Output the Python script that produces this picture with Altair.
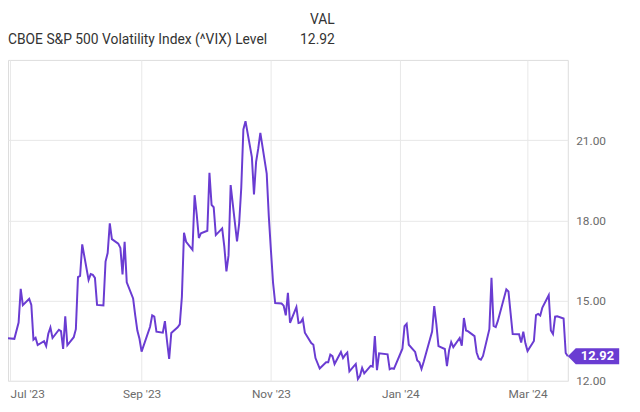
import altair as alt
import pandas as pd

dates = [
    "2023/06/30", "2023/07/03", "2023/07/05", "2023/07/06", "2023/07/07", "2023/07/10", "2023/07/11",
    "2023/07/12", "2023/07/13", "2023/07/14", "2023/07/17", "2023/07/18", "2023/07/19", "2023/07/20",
    "2023/07/21", "2023/07/24", "2023/07/25", "2023/07/26", "2023/07/27", "2023/07/28", "2023/07/31",
    "2023/08/01", "2023/08/02", "2023/08/03", "2023/08/04", "2023/08/07", "2023/08/08", "2023/08/09",
    "2023/08/10", "2023/08/11", "2023/08/14", "2023/08/15", "2023/08/16", "2023/08/17", "2023/08/18",
    "2023/08/21", "2023/08/22", "2023/08/23", "2023/08/24", "2023/08/25", "2023/08/28", "2023/08/29",
    "2023/08/30", "2023/08/31", "2023/09/01", "2023/09/05", "2023/09/06", "2023/09/07", "2023/09/08",
    "2023/09/11", "2023/09/12", "2023/09/13", "2023/09/14", "2023/09/15", "2023/09/18", "2023/09/19",
    "2023/09/20", "2023/09/21", "2023/09/22", "2023/09/25", "2023/09/26", "2023/09/27", "2023/09/28",
    "2023/09/29", "2023/10/02", "2023/10/03", "2023/10/04", "2023/10/05", "2023/10/06", "2023/10/09",
    "2023/10/10", "2023/10/11", "2023/10/12", "2023/10/13", "2023/10/16", "2023/10/17", "2023/10/18",
    "2023/10/19", "2023/10/20", "2023/10/23", "2023/10/24", "2023/10/25", "2023/10/26", "2023/10/27",
    "2023/10/30", "2023/10/31", "2023/11/01", "2023/11/02", "2023/11/03", "2023/11/06", "2023/11/07",
    "2023/11/08", "2023/11/09", "2023/11/10", "2023/11/13", "2023/11/14", "2023/11/15", "2023/11/16",
    "2023/11/17", "2023/11/20", "2023/11/21", "2023/11/22", "2023/11/24", "2023/11/27", "2023/11/28",
    "2023/11/29", "2023/11/30", "2023/12/01", "2023/12/04", "2023/12/05", "2023/12/06", "2023/12/07",
    "2023/12/08", "2023/12/11", "2023/12/12", "2023/12/13", "2023/12/14", "2023/12/15", "2023/12/18",
    "2023/12/19", "2023/12/20", "2023/12/21", "2023/12/22", "2023/12/26", "2023/12/27", "2023/12/28",
    "2023/12/29", "2024/01/02", "2024/01/03", "2024/01/04", "2024/01/05", "2024/01/08", "2024/01/09",
    "2024/01/10", "2024/01/11", "2024/01/12", "2024/01/16", "2024/01/17", "2024/01/18", "2024/01/19",
    "2024/01/22", "2024/01/23", "2024/01/24", "2024/01/25", "2024/01/26", "2024/01/29", "2024/01/30",
    "2024/01/31", "2024/02/01", "2024/02/02", "2024/02/05", "2024/02/06", "2024/02/07", "2024/02/08",
    "2024/02/09", "2024/02/12", "2024/02/13", "2024/02/14", "2024/02/15", "2024/02/16", "2024/02/20",
    "2024/02/21", "2024/02/22", "2024/02/23", "2024/02/26", "2024/02/27", "2024/02/28", "2024/02/29",
    "2024/03/01", "2024/03/04", "2024/03/05", "2024/03/06", "2024/03/07", "2024/03/08", "2024/03/11",
    "2024/03/12", "2024/03/13", "2024/03/14", "2024/03/15", "2024/03/18", "2024/03/19", "2024/03/20",
]

vix = [
    13.59, 13.57, 14.18, 15.44, 14.83, 15.07, 14.84,
    13.54, 13.61, 13.34, 13.48, 13.30, 13.76, 13.99,
    13.60, 13.91, 13.86, 13.19, 14.41, 13.33, 13.63,
    13.93, 15.88, 15.92, 17.10, 15.77, 15.99, 15.96,
    15.85, 14.84, 14.82, 16.46, 16.78, 17.89, 17.30,
    17.13, 16.97, 15.98, 17.20, 15.68, 15.08, 14.45,
    13.88, 13.57, 13.09, 14.02, 14.45, 14.40, 13.84,
    13.80, 14.23, 13.48, 12.82, 13.79, 14.00, 14.11,
    15.14, 17.54, 17.20, 16.90, 18.94, 18.22, 17.34,
    17.52, 17.61, 19.78, 18.58, 18.49, 17.45, 17.70,
    17.03, 16.09, 16.69, 19.32, 17.21, 17.88, 19.22,
    21.40, 21.71, 20.37, 18.97, 20.19, 20.68, 21.27,
    19.75, 18.14, 16.87, 15.66, 14.91, 14.89, 14.81,
    14.45, 15.29, 14.17, 14.76, 14.16, 14.18, 14.32,
    13.80, 13.41, 13.35, 12.85, 12.46, 12.69, 12.69,
    12.98, 12.92, 12.63, 13.08, 12.85, 12.97, 13.06,
    12.35, 12.63, 12.07, 12.19, 12.48, 12.28, 12.56,
    12.53, 13.67, 12.40, 13.03, 12.99, 12.43, 12.47,
    12.45, 13.20, 14.04, 14.13, 13.35, 13.08, 12.76,
    12.69, 12.44, 12.70, 13.84, 14.79, 14.13, 13.30,
    13.19, 12.55, 13.14, 13.45, 13.26, 13.60, 13.31,
    14.35, 13.88, 13.85, 13.67, 13.06, 12.83, 12.79,
    12.93, 13.93, 15.85, 14.05, 14.01, 14.24, 15.42,
    15.34, 14.54, 13.75, 13.74, 13.43, 13.84, 13.40,
    13.11, 13.49, 14.46, 14.50, 14.44, 14.74, 15.20,
    13.88, 13.75, 14.40, 14.41, 14.33, 13.04, 12.92,
]

y_ticks = [12, 15, 18, 21]
x_tick_dates = [(2023, 7), (2023, 9), (2023, 11), (2024, 1), (2024, 3)]
series_name = "CBOE S&P 500 Volatility Index (^VIX) Level"
col_header = "VAL"
last_label = "12.92"

PURPLE = "#6a3cd2"
FONT = "Roboto"

df = pd.DataFrame({"date": dates, "vix": vix})
last_df = df.tail(1).assign(lbl=last_label)

x_enc = alt.X(
    "date:T",
    scale=alt.Scale(domain=[alt.DateTime(year=2023, month=6, date=30),
                            alt.DateTime(year=2024, month=3, date=20)]),
    axis=alt.Axis(
        values=[alt.DateTime(year=y, month=m, date=1) for y, m in x_tick_dates],
        format="%b '%y", title=None, grid=True, gridColor="#e8e8e8",
        domain=False, ticks=False, labelPadding=8, labelFlush=10,
        labelFont=FONT, labelFontSize=12, labelColor="#6b6b6b",
    ),
)
y_enc = alt.Y(
    "vix:Q",
    scale=alt.Scale(domain=[12, 24], nice=False, zero=False),
    axis=alt.Axis(
        orient="right", values=y_ticks, format=".2f", title=None, grid=True,
        gridColor="#e8e8e8", domain=False, ticks=False, labelPadding=8,
        labelFont=FONT, labelFontSize=12, labelColor="#6b6b6b",
    ),
)

line = alt.Chart(df).mark_line(color=PURPLE, strokeWidth=2).encode(x=x_enc, y=y_enc)

tag = alt.Chart(last_df).mark_point(
    shape="M0,0 L0.31,-0.31 L2,-0.31 L2,0.31 L0.31,0.31 Z",
    size=2704, filled=True, color=PURPLE, opacity=1, strokeWidth=0,
).encode(x="date:T", y="vix:Q")

tag_text = alt.Chart(last_df).mark_text(
    dx=30, align="center", baseline="middle", font=FONT, fontSize=13,
    fontWeight="bold", color="white",
).encode(x="date:T", y="vix:Q", text="lbl:N")

hdr_df = pd.DataFrame({"name": [series_name], "col": [col_header], "val": [last_label]})
hdr_name = alt.Chart(hdr_df).mark_text(
    align="left", baseline="middle", font=FONT, fontSize=14, color="#333333",
).encode(x=alt.value(0), y=alt.value(-20), text="name:N")
hdr_col = alt.Chart(hdr_df).mark_text(
    align="right", baseline="middle", font=FONT, fontSize=14, color="#333333",
).encode(x=alt.value(331), y=alt.value(-40), text="col:N")
hdr_val = alt.Chart(hdr_df).mark_text(
    align="right", baseline="middle", font=FONT, fontSize=14, color="#333333",
).encode(x=alt.value(331), y=alt.value(-20), text="val:N")

chart = alt.layer(line, tag, tag_text, hdr_name, hdr_col, hdr_val).properties(
    width=567, height=325,
    autosize=alt.AutoSizeParams(type="none"),
    padding={"left": 0, "top": 50, "right": 65, "bottom": 29},
    background="white",
).configure_view(stroke="#dcdcdc", strokeWidth=1)

chart.save("out.html", embed_options={"renderer": "svg", "actions": False})
